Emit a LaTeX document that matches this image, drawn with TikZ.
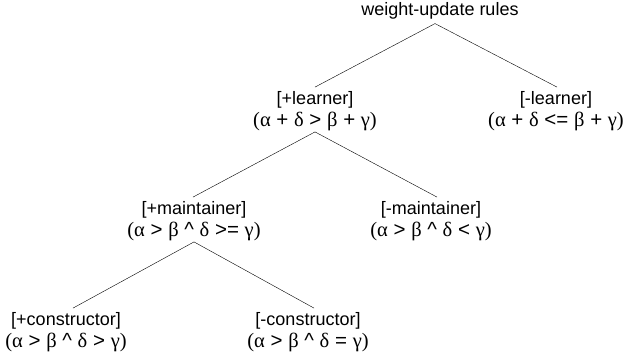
\documentclass[tikz,border=0pt]{standalone}
\usepackage{fontspec}
\setmainfont{Liberation Sans}
\newfontfamily\grk{Liberation Serif}
\usepackage{tikz}
\newcommand{\gr}[1]{{\grk #1}}
\newcommand{\cond}[1]{{\fontsize{20.5}{22}\selectfont #1}}
\tikzset{rule/.style={align=center, inner sep=0pt, font=\fontsize{18}{22}\selectfont}}

\begin{document}
\begin{tikzpicture} [x=1pt, y=-1pt]
  \useasboundingbox (0,0) rectangle (623,356);
  \node[rule] (W) at (440,11) {weight-update rules};
  \node[rule] (Lp) at (315,111) {[+learner]\\ \cond{\gr{(α} + \gr{δ} > \gr{β} + \gr{γ)}}};
  \node[rule] (Lm) at (556,111) {[-learner]\\ \cond{\gr{(α} + \gr{δ} <= \gr{β} + \gr{γ)}}};
  \node[rule] (Mp) at (194,221) {[+maintainer]\\ \cond{\gr{(α} > \gr{β} \textasciicircum{} \gr{δ} >= \gr{γ)}}};
  \node[rule] (Mm) at (431,221) {[-maintainer]\\ \cond{\gr{(α} > \gr{β} \textasciicircum{} \gr{δ} < \gr{γ)}}};
  \node[rule] (Cp) at (66,332) {[+constructor]\\ \cond{\gr{(α} > \gr{β} \textasciicircum{} \gr{δ} > \gr{γ)}}};
  \node[rule] (Cm) at (308,332) {[-constructor]\\ \cond{\gr{(α} > \gr{β} \textasciicircum{} \gr{δ} = \gr{γ)}}};

  \draw ([xshift=-5pt,yshift=-4pt]W.south) -- ([yshift=4pt]Lp.north);
  \draw ([xshift=-5pt,yshift=-4pt]W.south) -- ([xshift=1pt,yshift=4pt]Lm.north);
  \draw ([yshift=-1pt]Lp.south) -- ([xshift=-1pt,yshift=4pt]Mp.north);
  \draw ([yshift=-1pt]Lp.south) -- ([xshift=6pt,yshift=4pt]Mm.north);
  \draw ([yshift=-1pt]Mp.south) -- ([xshift=7pt,yshift=4pt]Cp.north);
  \draw ([yshift=-1pt]Mp.south) -- ([xshift=6pt,yshift=4pt]Cm.north);
\end{tikzpicture}
\end{document}
